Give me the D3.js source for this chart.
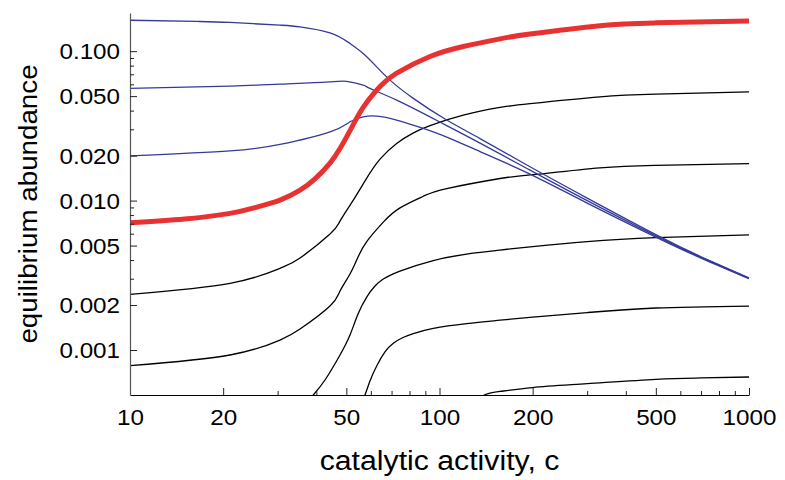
<!DOCTYPE html>
<html><head><meta charset="utf-8">
<script src="https://cdn.jsdelivr.net/npm/d3@7/dist/d3.min.js"></script>
<style>body{margin:0;background:#fff}</style>
</head><body>
<svg id="chart" width="785" height="480"></svg>
<script>
// ---- data ----
const xMajorTicks = [10, 20, 50, 100, 200, 500, 1000];
const xMinorTicks = [30, 40, 60, 70, 80, 90, 300, 400, 600, 700, 800, 900];
const yMajorTicks = [0.1, 0.05, 0.02, 0.01, 0.005, 0.002, 0.001];
const yTickLabels = ["0.100", "0.050", "0.020", "0.010", "0.005", "0.002", "0.001"];
const yMinorTicks = [0.09, 0.08, 0.07, 0.06, 0.04, 0.03, 0.009, 0.008, 0.007, 0.006, 0.004, 0.003];

const redC = [10, 15, 21.04, 25.35, 30.52, 35.43, 39.6, 44.28, 47.7, 51.38, 56.68, 64.24, 72.71, 93.18, 119.4, 156.9, 196.1, 330.1, 500, 1000];
const redV = [0.0071, 0.00752, 0.00821, 0.00898, 0.01008, 0.01175, 0.01397, 0.01781, 0.02228, 0.02938, 0.04208, 0.05806, 0.07125, 0.09203, 0.1074, 0.1209, 0.1302, 0.1481, 0.1546, 0.1594];

const blue1C = [10, 16.43, 21.04, 30.52, 35.43, 44.28, 51.38, 56.68, 62.67, 69.2, 82.29, 105.5, 135.2, 196.1, 300, 500, 700, 1000];
const blue1V = [0.161, 0.158, 0.1556, 0.1492, 0.1454, 0.1326, 0.1126, 0.0965, 0.0785, 0.064, 0.0483, 0.0346, 0.026, 0.01683, 0.01039, 0.00592, 0.00421, 0.00303];

const blue2C = [10, 21.04, 30.52, 44.28, 50.13, 56.68, 59.61, 72.71, 93.18, 105.5, 135.2, 196.1, 300, 500, 700, 1000];
const blue2V = [0.0563, 0.0583, 0.0602, 0.0623, 0.0628, 0.0592, 0.0563, 0.047, 0.0363, 0.03176, 0.02425, 0.016, 0.01, 0.00581, 0.00417, 0.00302];

const blue3C = [10, 21.04, 30.52, 44.28, 51.38, 56.68, 62.67, 72.71, 88.64, 105.5, 135.2, 196.1, 300, 500, 700, 1000];
const blue3V = [0.01994, 0.02153, 0.02376, 0.02885, 0.03366, 0.03634, 0.03674, 0.0346, 0.0304, 0.02659, 0.02127, 0.01504, 0.00962, 0.0057, 0.00412, 0.0030];

const black1C = [10, 21.04, 30.52, 35.43, 44.28, 47.7, 52.67, 58.19, 64.24, 72.71, 82.11, 93.18, 119.4, 156.9, 196.1, 330.1, 500, 1000];
const black1V = [0.002359, 0.002793, 0.00352, 0.004124, 0.005968, 0.007293, 0.01008, 0.01414, 0.01895, 0.02413, 0.02828, 0.03175, 0.03731, 0.042, 0.04455, 0.04946, 0.0516, 0.05341];

const black2C = [10, 21.04, 30.52, 35.43, 44.28, 47.7, 51.38, 54.54, 58.19, 65.83, 74.55, 88.64, 105.5, 156.9, 196.1, 330.1, 500, 1000];
const black2V = [0.000785, 0.000926, 0.001166, 0.001382, 0.00197, 0.00248, 0.003224, 0.004189, 0.005318, 0.007181, 0.008937, 0.01069, 0.01203, 0.01405, 0.01485, 0.01655, 0.0172, 0.0177];

const black3C = [36.76, 39.09, 42.66, 47.7, 51.38, 54.54, 58.19, 61.89, 65.83, 74.55, 95.5, 122.4, 156.9, 200, 300, 500, 1000];
const black3V = [0.000429, 0.0005, 0.00063, 0.000926, 0.00126, 0.001741, 0.002262, 0.002679, 0.002985, 0.003377, 0.00397, 0.004386, 0.004666, 0.004923, 0.005318, 0.005656, 0.005904];

const black4C = [55.35, 57.43, 59.61, 62.67, 66.66, 70.92, 76.23, 82.29, 95.5, 122.4, 156.9, 200, 300, 500, 1000];
const black4V = [0.000429, 0.0005, 0.00062, 0.000782, 0.00097, 0.001109, 0.001212, 0.001289, 0.001397, 0.001504, 0.001583, 0.00166, 0.001781, 0.00191, 0.001969];

const black5C = [125.5, 139.6, 156.9, 200, 300, 500, 700, 1000];
const black5V = [0.000429, 0.0005, 0.000528, 0.000561, 0.000595, 0.000637, 0.00065, 0.00066];

// ---- layout ----
const L = 130, R = 749, T = 13, B = 395;
const svg = d3.select("#chart");
const x = d3.scaleLog().domain([10, 1000]).range([L, R]);
const y = d3.scaleLog().domain([0.0005, 0.18]).range([B, T]);

const font = "'Liberation Sans', Arial, Helvetica, sans-serif";
const stretch = 1.1;

svg.append("defs").append("clipPath").attr("id", "clip")
  .append("rect").attr("x", L).attr("y", T).attr("width", R - L).attr("height", B - T);

const line = d3.line().x(d => x(d[0])).y(d => y(d[1])).curve(d3.curveNatural);
const zip = (a, b) => a.map((c, i) => [c, b[i]]);

const g = svg.append("g").attr("clip-path", "url(#clip)");
const blues = [[blue1C, blue1V], [blue2C, blue2V], [blue3C, blue3V]];
const blacks = [[black1C, black1V], [black2C, black2V], [black3C, black3V], [black4C, black4V], [black5C, black5V]];

g.selectAll("path.black").data(blacks).enter().append("path")
  .attr("class", "black").attr("d", d => line(zip(d[0], d[1])))
  .attr("fill", "none").attr("stroke", "#000").attr("stroke-width", 1.3);
g.selectAll("path.blue").data(blues).enter().append("path")
  .attr("class", "blue").attr("d", d => line(zip(d[0], d[1])))
  .attr("fill", "none").attr("stroke", "#35399a").attr("stroke-width", 1.3);
g.append("path").attr("d", line(zip(redC, redV)))
  .attr("fill", "none").attr("stroke", "#e83232").attr("stroke-width", 5);

// ---- axes ----
const xAxisMajor = d3.axisBottom(x).tickValues(xMajorTicks).tickSizeInner(-7).tickSizeOuter(0).tickFormat(d3.format("d"));
const xAxisMinor = d3.axisBottom(x).tickValues(xMinorTicks).tickSizeInner(-4).tickSizeOuter(0).tickFormat("");
const yAxisMajor = d3.axisLeft(y).tickValues(yMajorTicks).tickSizeInner(-7).tickSizeOuter(0).tickFormat((d, i) => yTickLabels[i]);
const yAxisMinor = d3.axisLeft(y).tickValues(yMinorTicks).tickSizeInner(-4).tickSizeOuter(0).tickFormat("");

const gx = svg.append("g").attr("transform", `translate(0,${B})`).call(xAxisMajor);
svg.append("g").attr("transform", `translate(0,${B})`).call(xAxisMinor).select(".domain").remove();
const gy = svg.append("g").attr("transform", `translate(${L},0)`).call(yAxisMajor);
svg.append("g").attr("transform", `translate(${L},0)`).call(yAxisMinor).select(".domain").remove();

gx.select(".domain").attr("stroke", "#000").attr("stroke-width", 1.2);
gy.select(".domain").attr("stroke", "#555").attr("stroke-width", 1.2);
svg.selectAll(".tick line").attr("stroke", "#222").attr("stroke-width", 1);

gx.selectAll(".tick text").attr("font-family", font).attr("font-size", 22).attr("fill", "#000")
  .attr("y", 14).attr("dy", "0.71em").attr("transform", `scale(${stretch},1)`);
gy.selectAll(".tick text").attr("font-family", font).attr("font-size", 22).attr("fill", "#000")
  .attr("x", -10 / stretch).attr("dy", "0.35em").attr("transform", `scale(${stretch},1)`);

svg.append("text").attr("transform", `translate(${(L + R) / 2},470) scale(1.12,1)`).attr("text-anchor", "middle")
  .attr("font-family", font).attr("font-size", 27).attr("fill", "#000").text("catalytic activity, c");
svg.append("text").attr("transform", `translate(37,${(T + B) / 2}) rotate(-90) scale(1.11,1)`).attr("text-anchor", "middle")
  .attr("font-family", font).attr("font-size", 25).attr("fill", "#000").text("equilibrium abundance");
</script>
</body></html>
